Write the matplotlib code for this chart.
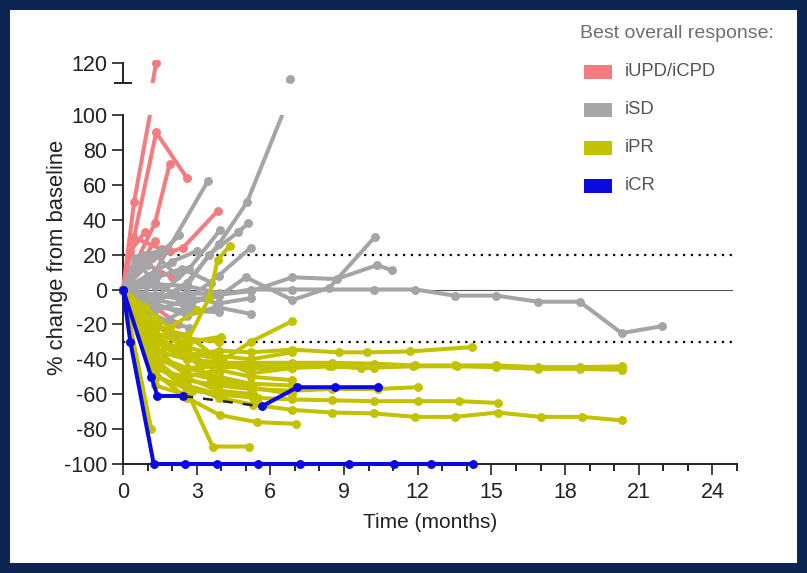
import matplotlib
matplotlib.use('Agg')
import matplotlib.pyplot as plt
from matplotlib.patches import Rectangle

plt.rcParams['font.family'] = ['Liberation Sans', 'DejaVu Sans']
plt.rcParams['axes.unicode_minus'] = False

# each patient: (months, % change from baseline)
upd_lines = [
    ([0, 0.45, 1.35], [0, 50, 120]),
    ([0, 1.35, 2.6], [0, 90, 64]),
    ([0, 1.3, 1.9], [0, 38, 72]),
    ([0, 1.2, 2.45, 3.85], [0, 18, 24, 45]),
    ([0, 0.4, 1.6], [0, 30, 23]),
    ([0, 0.6, 1.3], [0, 12, 28]),
    ([0, 0.9, 2.0], [0, 15, 7]),
    ([0, 1.3], [0, -34]),
    ([0, 0.3, 0.9], [0, 22, 33]),
    ([0, 0.25, 0.7], [0, 8, 15]),
    ([0, 1.3, 2.25], [0, -10, -20]),
    ([0, 0.35, 1.0, 1.9], [0, 10, 20, 22]),
]

sd_lines = [
    ([0, 1.3, 3.45], [0, 10, 62]),
    ([0, 1.0, 2.3], [0, 14, 31]),
    ([0, 1.4, 2.7, 3.95], [0, -4, 12, 34]),
    ([0, 1.3, 2.6, 3.9, 5.05, 6.8], [0, -8, 4, 26, 50, 111]),
    ([0, 1.3, 2.6, 3.5, 4.7, 5.1], [0, -6, 2, 20, 33, 38]),
    ([0, 1.3, 2.6, 3.9, 5.2], [0, -12, -6, 8, 24]),
    ([0, 1.3, 2.6, 3.9, 5.0, 6.9, 8.4, 10.25], [0, -3, -6, -4, 7, -6, 1, 30]),
    ([0, 1.3, 2.5, 3.9, 5.2, 6.9, 8.7, 10.35, 10.95], [0, -6, -9, -3, -1, 7, 6, 14, 11]),
    ([0, 1.3, 2.6, 3.9, 5.2, 6.9, 10.2, 11.9, 13.5, 15.2, 16.9, 18.6, 20.3, 21.95],
     [0, -5, -2, -3, 0, 0, 0, 0, -3.5, -3.5, -7, -7, -25, -21]),
    ([0, 1.2, 2.5, 3.9], [0, -10, -12, -13]),
    ([0, 1.3, 2.6, 3.8, 5.2], [0, -8, -15, -10, -14]),
    ([0, 0.5, 1.3, 2.2], [0, 12, 20, 8]),
    ([0, 0.8, 1.5], [0, 20, 22]),
    ([0, 0.6, 1.3, 2.1], [0, -15, -20, -27]),
    ([0, 1.3, 2.3], [0, 5, -5]),
    ([0, 1.0, 2.0, 3.0], [0, 8, 16, 22]),
    ([0, 0.7, 1.4], [0, -5, 8]),
    ([0, 1.4, 2.8], [0, -20, -10]),
    ([0, 1.3, 2.6, 3.9], [0, 3, 2, -2]),
    ([0, 0.5, 1.2], [0, 18, 5]),
    ([0, 1.3, 2.6, 3.9, 5.2], [0, 2, -4, -8, -5]),
    ([0, 0.9, 1.8, 2.7], [0, -12, -18, -22]),
    ([0, 1.2, 2.4, 3.6], [0, 6, 12, 4]),
]

pr_lines = [
    ([0, 1.3, 2.6, 3.9, 5.2, 6.9, 8.8, 9.95, 11.7, 14.2],
     [0, -28, -38, -35, -36, -34.5, -36, -36, -35.5, -33]),
    ([0, 1.3, 2.6, 3.9, 5.2, 6.9, 8.5, 10.2, 11.9, 13.5, 15.2, 16.9, 18.6, 20.3],
     [0, -35, -40, -42, -42, -42, -42, -42.5, -43.5, -43.5, -43.5, -44.5, -44.5, -44]),
    ([0, 1.3, 2.6, 3.9, 5.2, 6.9, 8.5, 9.7, 11.8, 13.6, 15.2, 16.9, 18.6, 20.3],
     [0, -40, -45, -44, -45, -45, -44, -45, -44, -44, -44.5, -45.5, -45.5, -46]),
    ([0, 1.3, 2.6, 3.9, 5.2, 6.9, 8.4, 10.2], [0, -30, -40, -45, -43, -44, -44, -45]),
    ([0, 1.3, 2.6, 3.9, 5.2, 6.9, 8.5, 10.4, 12.0], [0, -45, -52, -55, -57, -58, -57, -57, -56]),
    ([0, 1.3, 2.6, 3.9, 5.3, 6.9, 8.5, 10.2, 12, 13.7, 15.25],
     [0, -42, -55, -60, -62, -63, -63.5, -64, -64, -64, -65]),
    ([0, 1.3, 2.6, 3.9, 5.3, 6.9, 8.5, 10.2, 11.9, 13.5, 15.25, 17, 18.7, 20.3],
     [0, -40, -55, -62, -66, -69, -70.5, -71, -73, -73, -70.5, -73, -73, -75]),
    ([0, 1.3, 2.6, 3.95, 5.45, 7.05], [0, -48, -62, -72, -76, -77]),
    ([0, 1.3, 2.6, 3.65, 5.15], [0, -42, -58, -90, -90]),
    ([0, 1.15], [0, -80]),
    ([0, 1.3, 2.6, 3.5, 3.85, 4.35], [0, -25, -30, -5, 17, 25]),
    ([0, 1.3, 2.6, 3.9, 5.2, 6.9], [0, -30, -40, -42, -30, -18]),
    ([0, 1.3, 2.6, 3.9, 5.2, 6.9], [0, -38, -45, -50, -54, -55]),
    ([0, 1.3, 2.6, 3.9], [0, -30, -35, -48]),
    ([0, 1.3, 2.6], [0, -25, -32]),
    ([0, 1.2, 2.5, 3.9, 5.3], [0, -45, -50, -58, -60]),
    ([0, 1.3, 2.6, 3.9, 5.2, 6.9], [0, -35, -33, -38, -40, -36]),
    ([0, 1.3, 2.6, 3.9], [0, -20, -28, -30]),
    ([0, 1.4, 2.8, 4.1, 5.5], [0, -50, -58, -60, -62]),
    ([0, 1.3, 2.6, 3.9, 5.2, 6.9], [0, -38, -48, -52, -56, -60]),
    ([0, 1.3, 2.5], [0, -55, -60]),
    ([0, 0.9, 1.9, 3.0], [0, -10, -22, -12]),
    ([0, 1.3, 2.6, 3.9, 5.2], [0, -22, -26, -40, -47]),
    ([0, 1.3, 2.6, 3.9, 5.2, 6.9], [0, -33, -50, -46, -50, -52]),
    ([0, 1.4, 2.7, 4.0], [0, -36, -30, -27]),
    ([0, 1.3, 2.6, 3.9, 5.2, 6.9], [0, -27, -36, -40, -48, -45]),
    ([0, 1.2, 2.4, 3.6, 4.8], [0, -18, -33, -52, -55]),
]

cr_months_1 = [0, 0.3, 1.25, 2.52, 3.82, 5.49, 7.2, 9.19, 11.02, 12.56, 14.27]
cr_values_1 = [0, -30, -100, -100, -100, -100, -100, -100, -100, -100, -100]
cr_months_2 = [0, 1.15, 1.4, 2.45, 5.65, 7.1, 8.65, 10.4]
cr_values_2 = [0, -50, -61, -61, -67, -56, -56, -56]

groups = ['iUPD/iCPD', 'iSD', 'iPR', 'iCR']
colors = ['#f27c80', '#a5a5a7', '#c2c200', '#0a0ae0']

W, H = 807, 573
fig = plt.figure(figsize=(W / 100, H / 100), dpi=100, facecolor='#0c2553')
fig.patches.append(Rectangle((10 / W, 10 / H), 787 / W, 553 / H, transform=fig.transFigure,
                             facecolor='white', edgecolor='none', zorder=-10))

ax = fig.add_axes([123 / W, 1 - 464 / H, 614 / W, 349 / H])
ax_top = fig.add_axes([123 / W, 1 - 83 / H, 614 / W, 23 / H], sharex=ax)
for a in (ax, ax_top):
    a.set_facecolor('none')

lw, ms = 2.9, 5.4
clip_box = Rectangle((-1, -106), 28, 206, transform=ax.transData)


def spider(lines, color, z):
    for months, values in lines:
        ln, = ax.plot(months, values, color=color, lw=lw, marker='o', ms=ms, zorder=z)
        ln.set_clip_path(clip_box)
        if max(values) > 100:
            ax_top.plot(months, values, color=color, lw=lw, marker='o', ms=ms, zorder=z)


spider(upd_lines, colors[0], 3)
spider(sd_lines, colors[1], 4)
spider(pr_lines, colors[2], 5)
spider([(cr_months_1, cr_values_1)], colors[3], 6)
for sl in (slice(0, 4), slice(4, 8)):
    ax.plot(cr_months_2[sl], cr_values_2[sl], color=colors[3], lw=lw,
            marker='o', ms=ms, zorder=6)
ax.plot(cr_months_2[3:5], cr_values_2[3:5], color='#20203a', lw=1.8,
        ls=(0, (4, 4)), zorder=6)

# reference lines
ax.plot([0, 24.8], [0, 0], color='#555555', lw=0.8, zorder=2)
for yref in (20, -30):
    ax.plot([0, 24.8], [yref, yref], color='black', lw=1.6, ls=(0, (1, 2.5)), zorder=2)

ax.set_xlim(0, 25)
ax.set_ylim(-100, 100)
ax.set_xticks(range(0, 25, 3))
ax.set_xticks(range(0, 26), minor=True)
ax.set_yticks(range(-100, 101, 20))
ax.set_yticks([100], minor=True)
ax.tick_params(axis='y', which='minor', direction='inout', length=18, width=1.2)
ax.tick_params(which='major', length=8, width=1.2, labelsize=15.5, colors='#222222')
ax.tick_params(axis='x', which='minor', length=5, width=1.2)
ax.tick_params(axis='x', which='major', pad=5)
ax.spines[['top', 'right']].set_visible(False)
for s in ('left', 'bottom'):
    ax.spines[s].set_linewidth(1.4)
    ax.spines[s].set_color('#222222')

ax_top.set_ylim(108.5, 121.5)
ax_top.spines[['top', 'right', 'bottom']].set_visible(False)
ax_top.spines['left'].set_bounds(108.5, 120)
ax_top.spines['left'].set_linewidth(1.4)
ax_top.spines['left'].set_color('#222222')
ax_top.set_yticks([120])
ax_top.set_yticks([108.5], minor=True)
ax_top.tick_params(axis='y', which='major', length=8, width=1.2, labelsize=15.5, colors='#222222')
ax_top.tick_params(axis='y', which='minor', direction='inout', length=13, width=1.2)
ax_top.tick_params(axis='x', which='both', bottom=False, labelbottom=False)

ax.set_xlabel('Time (months)', fontsize=15, color='#222222', labelpad=7)
fig.text(57 / W, 1 - 257 / H, '% change from baseline', rotation=90, fontsize=15.8,
         color='#222222', ha='center', va='center')

# legend
fig.text(580 / W, 1 - 34 / H, 'Best overall response:', fontsize=14, color='#6e6e6e',
         ha='left', va='center')
for i, (name, c) in enumerate(zip(groups, colors)):
    yc = 72 + i * 38
    fig.patches.append(Rectangle((584 / W, 1 - (yc + 7) / H), 28 / W, 14 / H,
                                 transform=fig.transFigure, facecolor=c, edgecolor='none'))
    fig.text(625 / W, 1 - yc / H, name, fontsize=13.3, color='#555555', ha='left',
             va='center')

fig.savefig('out.png', dpi=100, facecolor=fig.get_facecolor())
